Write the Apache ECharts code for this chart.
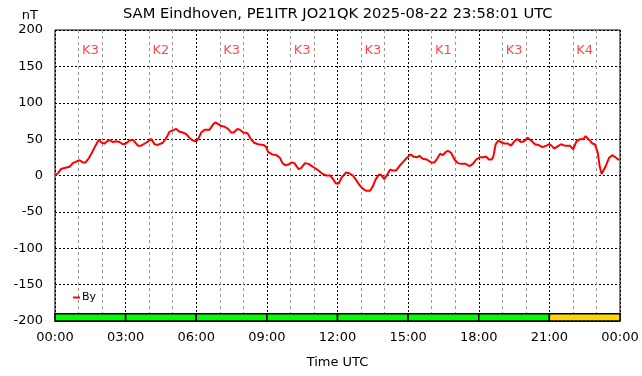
<!DOCTYPE html>
<html>
<head>
<meta charset="utf-8">
<script src="https://cdn.jsdelivr.net/npm/echarts@6/dist/echarts.min.js"></script>
<style>
  html, body { margin: 0; padding: 0; background: #fff; }
  #magChart { width: 642px; height: 376px; }
</style>
</head>
<body>
<div id="magChart"></div>
<script>
// By component (nT), time in hours UTC
var hours = [
  0.00, 0.12, 0.26, 0.48, 0.62, 0.76, 0.90, 1.04, 1.18, 1.30, 1.44, 1.58, 1.72, 1.86, 1.99,
  2.10, 2.29, 2.46, 2.60, 2.74, 2.88, 3.02, 3.16, 3.31, 3.42, 3.52, 3.66, 3.87, 4.09, 4.23,
  4.37, 4.58, 4.72, 4.86, 5.00, 5.15, 5.29, 5.43, 5.57, 5.71, 5.85, 6.00, 6.10, 6.21, 6.36,
  6.57, 6.71, 6.81, 6.92, 7.07, 7.21, 7.35, 7.49, 7.59, 7.75, 7.85, 8.00, 8.18, 8.32, 8.46,
  8.63, 8.85, 8.95, 9.06, 9.23, 9.41, 9.56, 9.66, 9.80, 9.91, 10.05, 10.17, 10.34, 10.45, 10.62,
  10.77, 10.91, 11.05, 11.19, 11.33, 11.52, 11.69, 11.79, 11.93, 12.05, 12.19, 12.36, 12.50, 12.65, 12.79,
  12.93, 13.07, 13.21, 13.38, 13.50, 13.61, 13.75, 13.85, 13.99, 14.13, 14.23, 14.35, 14.49, 14.63, 14.77,
  14.91, 15.10, 15.23, 15.37, 15.48, 15.62, 15.79, 15.98, 16.12, 16.23, 16.36, 16.48, 16.59, 16.69, 16.83,
  16.97, 17.11, 17.26, 17.44, 17.61, 17.75, 17.89, 18.04, 18.21, 18.32, 18.43, 18.55, 18.62, 18.72, 18.83,
  18.94, 19.08, 19.23, 19.37, 19.51, 19.64, 19.79, 19.93, 20.07, 20.22, 20.39, 20.53, 20.70, 20.88, 21.00,
  21.09, 21.21, 21.35, 21.49, 21.66, 21.87, 22.01, 22.15, 22.30, 22.44, 22.54, 22.62, 22.72, 22.82, 22.93,
  23.05, 23.14, 23.22, 23.29, 23.38, 23.53, 23.67, 23.81, 23.92, 23.97
];
var byValues = [
  0, 3, 9, 11, 12, 17, 19, 21, 18, 18, 24, 32, 41, 49, 45,
  44, 49, 46, 47, 46, 43, 44, 48, 49, 45, 41, 41, 45, 50, 43,
  42, 45, 51, 60, 62, 64, 60, 59, 57, 52, 48, 47, 51, 59, 63,
  63, 70, 73, 71, 68, 67, 64, 59, 59, 64, 63, 59, 58, 50, 45,
  43, 42, 40, 32, 29, 28, 24, 17, 14, 15, 18, 17, 9, 10, 17,
  16, 13, 10, 7, 3, 0, 0, -4, -11, -11, -2, 4, 3, 0, -6,
  -13, -18, -21, -21, -15, -6, 1, 1, -5, 2, 8, 7, 7, 13, 18,
  23, 29, 26, 25, 27, 23, 22, 18, 18, 23, 30, 28, 32, 34, 31,
  22, 17, 16, 16, 13, 16, 22, 25, 25, 26, 22, 22, 26, 43, 48,
  46, 44, 44, 41, 47, 50, 46, 47, 52, 48, 43, 42, 39, 41, 43,
  41, 37, 40, 43, 41, 41, 36, 47, 50, 50, 54, 56, 48, 44, 43,
  32, 12, 2, 2, 12, 24, 28, 25, 22, 22
];

// 3-hourly K index blocks
var kStart = [0, 3, 6, 9, 12, 15, 18, 21];
var kIndex = [3, 2, 3, 3, 3, 1, 3, 4];

var myChart = echarts.init(document.getElementById('magChart'));

var lineData = hours.map(function (h, i) { return [h, byValues[i]]; });
var kLabelData = kStart.map(function (s, i) { return [s + 1.5, 172, 'K' + kIndex[i]]; });
var kBarData = kStart.map(function (s, i) { return [s, s + 3, kIndex[i]]; });

function pad(n) { return (n < 10 ? '0' : '') + n; }

var options = {
  animation: false,
  backgroundColor: '#fff',
  textStyle: { fontFamily: 'DejaVu Sans' },
  title: {
    text: 'SAM Eindhoven, PE1ITR JO21QK 2025-08-22 23:58:01 UTC',
    left: 118, top: 2,
    textStyle: { fontSize: 14.7, fontWeight: 'normal', color: '#000', fontFamily: 'DejaVu Sans' }
  },
  legend: {
    left: 68, top: 287,
    icon: 'rect', itemWidth: 7, itemHeight: 2, itemGap: 2,
    textStyle: { fontSize: 11, color: '#000', padding: [0, 0, 0, -3] },
    data: ['By']
  },
  grid: {
    left: 55, right: 22, top: 30, bottom: 55,
    show: true, borderColor: '#000', borderWidth: 1
  },
  xAxis: {
    type: 'value', min: 0, max: 24, interval: 3,
    name: 'Time UTC', nameLocation: 'middle', nameGap: 35,
    nameTextStyle: { fontSize: 13, color: '#000' },
    axisLine: { show: false },
    axisTick: { show: false },
    axisLabel: {
      fontSize: 13, color: '#000', margin: 10,
      formatter: function (v) { return pad(v % 24) + ':00'; }
    },
    splitLine: { show: true, lineStyle: { color: '#000', type: [2, 2], width: 1 } },
    minorTick: { show: false, splitNumber: 3 },
    minorSplitLine: { show: true, lineStyle: { color: '#999', type: [3, 3], width: 1 } }
  },
  yAxis: {
    type: 'value', min: -200, max: 200, interval: 50,
    name: 'nT', nameGap: 8,
    nameTextStyle: { fontSize: 13, color: '#000', align: 'right', padding: [0, 17, 0, 0] },
    axisLine: { show: false },
    axisTick: { show: false },
    axisLabel: { fontSize: 13, color: '#000', margin: 12 },
    splitLine: { show: true, lineStyle: { color: '#000', type: [2, 2], width: 1 } }
  },
  series: [
    {
      name: 'K bars',
      type: 'custom',
      silent: true,
      renderItem: function (params, api) {
        var p0 = api.coord([api.value(0), -190]);
        var p1 = api.coord([api.value(1), -200]);
        var k = api.value(2);
        return {
          type: 'rect',
          shape: { x: p0[0], y: p0[1], width: p1[0] - p0[0], height: p1[1] - p0[1] },
          style: { fill: k >= 4 ? '#ffd700' : '#00ff00', stroke: '#000', lineWidth: 1.5 }
        };
      },
      encode: { x: [0, 1], y: 2 },
      data: kBarData,
      z: 3
    },
    {
      name: 'By',
      type: 'line',
      data: lineData,
      showSymbol: false,
      smooth: false,
      color: '#ff0000',
      lineStyle: { color: '#ff0000', width: 2 },
      z: 4
    },
    {
      name: 'K labels',
      type: 'scatter',
      symbolSize: 0,
      silent: true,
      data: kLabelData,
      label: {
        show: true, position: 'inside',
        formatter: function (p) { return p.value[2]; },
        fontSize: 13, color: '#ff1a1a'
      },
      z: 5
    }
  ]
};

myChart.setOption(options);
</script>
</body>
</html>
